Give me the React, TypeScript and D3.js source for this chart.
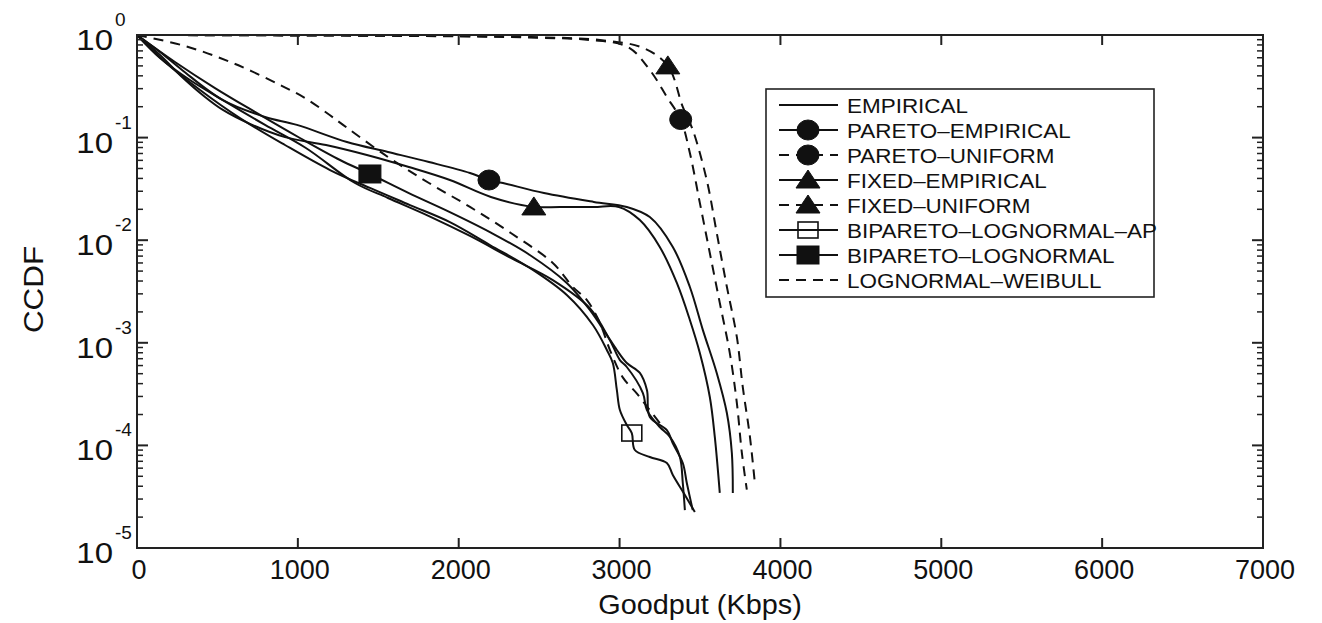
import React from "react";
import * as d3 from "d3";

type Pt = [number, number];

// ---- data (Goodput in Kbps, CCDF) ----
const EMPIRICAL: Pt[] = [
  [0, 1], [143, 0.597], [329, 0.364], [534, 0.232], [796, 0.133], [1050, 0.0792],
  [1355, 0.0361], [1560, 0.0258], [1815, 0.0172], [2070, 0.011], [2324, 0.00671],
  [2585, 0.00409], [2815, 0.00218], [2940, 0.00106], [3002, 6.79e-4], [3045, 5.81e-4],
  [3145, 3.24e-4], [3170, 2.21e-4], [3250, 1.51e-4], [3313, 1.21e-4], [3375, 7.71e-5],
  [3393, 4.3e-5], [3406, 2.34e-5],
];
const PARETO_EMPIRICAL: Pt[] = [
  [0, 1], [143, 0.683], [280, 0.456], [534, 0.232], [796, 0.159], [994, 0.133],
  [1305, 0.0906], [1560, 0.0724], [1815, 0.0578], [2070, 0.0452], [2188, 0.0386],
  [2275, 0.0361], [2530, 0.0288], [2840, 0.0236], [3045, 0.0211], [3188, 0.0168],
  [3331, 0.00859], [3437, 0.0035], [3518, 0.00133], [3604, 5.08e-4], [3667, 2.07e-4],
  [3698, 8.44e-5], [3704, 3.44e-5],
];
const PARETO_UNIFORM: Pt[] = [
  [0, 1], [1000, 0.99], [2000, 0.97], [2500, 0.94], [2815, 0.894], [3052, 0.764],
  [3188, 0.456], [3294, 0.249], [3380, 0.15], [3437, 0.0708], [3499, 0.0231],
  [3561, 0.0075], [3623, 0.00245], [3685, 7.99e-4], [3729, 2.6e-4], [3760, 8.5e-5],
  [3791, 3.7e-5],
];
const FIXED_EMPIRICAL: Pt[] = [
  [0, 1], [143, 0.638], [280, 0.39], [423, 0.249], [534, 0.186], [702, 0.136],
  [920, 0.101], [1175, 0.0847], [1429, 0.0677], [1690, 0.0517], [1945, 0.0386],
  [2200, 0.0264], [2467, 0.0211], [2629, 0.0211], [2840, 0.0211], [2996, 0.0211],
  [3126, 0.0157], [3250, 0.00859], [3356, 0.00383], [3437, 0.00167], [3499, 7.96e-4],
  [3561, 2.96e-4], [3592, 1.21e-4], [3623, 3.44e-5],
];
const FIXED_UNIFORM: Pt[] = [
  [0, 1], [1000, 0.99], [2000, 0.975], [2500, 0.95], [2878, 0.894], [3145, 0.75],
  [3300, 0.5], [3393, 0.199], [3455, 0.119], [3542, 0.0385], [3604, 0.0118],
  [3667, 0.00352], [3729, 0.00114], [3766, 3.7e-4], [3810, 1.23e-4], [3841, 4.3e-5],
];
const BIPARETO_LOGNORMAL_AP: Pt[] = [
  [0, 1], [174, 0.546], [392, 0.291], [640, 0.155], [920, 0.0847], [1200, 0.0483],
  [1448, 0.0323], [1697, 0.022], [1945, 0.015], [2194, 0.00898], [2461, 0.00513],
  [2672, 0.00292], [2834, 0.00149], [2921, 8.51e-4], [2958, 6.35e-4], [2983, 3.47e-4],
  [3002, 2.21e-4], [3045, 1.58e-4], [3076, 1.32e-4], [3095, 9.02e-5], [3188, 7.71e-5],
  [3294, 6.73e-5], [3331, 5.15e-5], [3406, 3.29e-5], [3468, 2.24e-5],
];
const BIPARETO_LOGNORMAL: Pt[] = [
  [0, 1], [236, 0.546], [485, 0.304], [733, 0.178], [1013, 0.0991], [1262, 0.0605],
  [1448, 0.0442], [1690, 0.0288], [1945, 0.0188], [2194, 0.012], [2442, 0.00718],
  [2672, 0.00383], [2815, 0.00209], [2921, 0.00119], [2983, 8.51e-4], [3045, 6.35e-4],
  [3126, 5.08e-4], [3170, 3.47e-4], [3188, 1.89e-4], [3294, 1.41e-4], [3331, 1.05e-4],
  [3393, 6.73e-5], [3418, 4.3e-5], [3455, 2.34e-5],
];
const LOGNORMAL_WEIBULL: Pt[] = [
  [0, 1], [300, 0.78], [600, 0.53], [900, 0.32], [1050, 0.24], [1200, 0.165],
  [1305, 0.125], [1560, 0.0647], [1815, 0.0361], [2070, 0.0211], [2324, 0.01175],
  [2585, 0.006], [2710, 0.0035], [2797, 0.00261], [2878, 0.00156], [2940, 8.5e-4],
  [3020, 4.6e-4], [3108, 3.2e-4], [3188, 2.2e-4], [3250, 1.65e-4],
];

const SERIES_NAMES = [
  "EMPIRICAL",
  "PARETO–EMPIRICAL",
  "PARETO–UNIFORM",
  "FIXED–EMPIRICAL",
  "FIXED–UNIFORM",
  "BIPARETO–LOGNORMAL–AP",
  "BIPARETO–LOGNORMAL",
  "LOGNORMAL–WEIBULL",
];
const SERIES_DATA: Pt[][] = [
  EMPIRICAL, PARETO_EMPIRICAL, PARETO_UNIFORM, FIXED_EMPIRICAL,
  FIXED_UNIFORM, BIPARETO_LOGNORMAL_AP, BIPARETO_LOGNORMAL, LOGNORMAL_WEIBULL,
];
// goodput value at which each series carries its single marker (null = none)
const MARKER_AT: (number | null)[] = [null, 2188, 3380, 2467, 3300, 3076, 1448, null];

const X_TICKS = [0, 1000, 2000, 3000, 4000, 5000, 6000, 7000];
const Y_EXPONENTS = [0, -1, -2, -3, -4, -5];

// ---- styles ----
type MarkerKind = "none" | "circle" | "triangle" | "squareOpen" | "squareFilled";
const STYLE: { dashed: boolean; marker: MarkerKind }[] = [
  { dashed: false, marker: "none" },
  { dashed: false, marker: "circle" },
  { dashed: true, marker: "circle" },
  { dashed: false, marker: "triangle" },
  { dashed: true, marker: "triangle" },
  { dashed: false, marker: "squareOpen" },
  { dashed: false, marker: "squareFilled" },
  { dashed: true, marker: "none" },
];

const W = 1322;
const H = 623;
const L = 137, R = 1263, T = 35, B = 548;
const INK = "#111";
const FONT = "'Liberation Sans', Arial, Helvetica, sans-serif";

function Marker({ kind, cx, cy }: { kind: MarkerKind; cx: number; cy: number }) {
  if (kind === "circle") return <ellipse cx={cx} cy={cy} rx={11} ry={10} fill={INK} stroke={INK} strokeWidth={1} />;
  if (kind === "triangle")
    return <path d={`M${cx},${cy - 10}L${cx + 12},${cy + 8}L${cx - 12},${cy + 8}Z`} fill={INK} stroke={INK} strokeWidth={1} />;
  if (kind === "squareOpen")
    return <rect x={cx - 10} y={cy - 8} width={20} height={16} fill="none" stroke={INK} strokeWidth={1.6} />;
  if (kind === "squareFilled")
    return <rect x={cx - 11} y={cy - 9} width={22} height={18} fill={INK} stroke={INK} strokeWidth={1} />;
  return null;
}

function SText(props: { x: number; y: number; size: number; sx?: number; anchor?: string; children: React.ReactNode }) {
  const { x, y, size, sx = 1, anchor = "start", children } = props;
  return (
    <text transform={`translate(${x},${y}) scale(${sx},1)`} fontSize={size} fontFamily={FONT}
      textAnchor={anchor} fill={INK}>
      {children}
    </text>
  );
}

export default function App() {
  const x = d3.scaleLinear().domain([0, 7000]).range([L, R]);
  const y = d3.scaleLog().domain([1e-5, 1]).range([B, T]);
  const line = d3
    .line<Pt>()
    .x((d) => x(d[0]))
    .y((d) => y(d[1]))
    .curve(d3.curveCatmullRom.alpha(0.5));

  const minor: number[] = [];
  for (let e = -5; e < 0; e++) for (let m = 2; m <= 9; m++) minor.push(m * Math.pow(10, e));

  const legX0 = 766, legY0 = 89, legW = 388, legH = 208;
  const rowH = 25;

  return (
    <svg width={W} height={H} style={{ position: "fixed", left: 0, top: 0, background: "#fff" }}>
      <rect x={0} y={0} width={W} height={H} fill="#fff" />
      {/* series */}
      {SERIES_DATA.map((data, i) => (
        <path key={"s" + i} d={line(data) || ""} fill="none" stroke={INK} strokeWidth={2}
          strokeDasharray={STYLE[i].dashed ? "10,7" : undefined} strokeLinejoin="round" />
      ))}
      {SERIES_DATA.map((data, i) => {
        const mx = MARKER_AT[i];
        if (mx == null) return null;
        const p = data.find((d) => d[0] === mx)!;
        return <Marker key={"m" + i} kind={STYLE[i].marker} cx={x(p[0])} cy={y(p[1])} />;
      })}
      {/* frame */}
      <rect x={L} y={T} width={R - L} height={B - T} fill="none" stroke="#222" strokeWidth={2} />
      {/* x ticks */}
      {X_TICKS.map((t) => (
        <g key={"xt" + t}>
          <line x1={x(t)} x2={x(t)} y1={B} y2={B - 10} stroke="#222" strokeWidth={2} />
          <line x1={x(t)} x2={x(t)} y1={T} y2={T + 10} stroke="#222" strokeWidth={2} />
          <SText x={x(t) + 2} y={B + 31} size={27} anchor="middle">{t}</SText>
        </g>
      ))}
      {/* y ticks */}
      {Y_EXPONENTS.map((e) => {
        const v = Math.pow(10, e);
        return (
          <g key={"yt" + e}>
            <line x1={L} x2={L + 11} y1={y(v)} y2={y(v)} stroke="#222" strokeWidth={2} />
            <line x1={R} x2={R - 11} y1={y(v)} y2={y(v)} stroke="#222" strokeWidth={2} />
            <SText x={113} y={y(v) + 15} size={30} sx={1.1} anchor="end">10</SText>
            <SText x={115} y={y(v) - 9} size={19}>{e === 0 ? "0" : "-" + Math.abs(e)}</SText>
          </g>
        );
      })}
      {minor.map((v, i) => (
        <g key={"mn" + i}>
          <line x1={L} x2={L + 6} y1={y(v)} y2={y(v)} stroke="#222" strokeWidth={1.5} />
          <line x1={R} x2={R - 6} y1={y(v)} y2={y(v)} stroke="#222" strokeWidth={1.5} />
        </g>
      ))}
      {/* axis labels */}
      <SText x={(L + R) / 2} y={614} size={28} sx={1.03} anchor="middle">Goodput (Kbps)</SText>
      <text transform={`translate(43,${(T + B) / 2 - 2}) rotate(-90) scale(1.12,1)`} fontSize={28}
        fontFamily={FONT} textAnchor="middle" fill={INK}>CCDF</text>
      {/* legend */}
      <rect x={legX0} y={legY0} width={legW} height={legH} fill="#fff" stroke="#222" strokeWidth={1.6} />
      {SERIES_NAMES.map((name, i) => {
        const cy = legY0 + 16 + i * rowH;
        return (
          <g key={"lg" + i}>
            <line x1={legX0 + 13} x2={legX0 + 72} y1={cy} y2={cy} stroke={INK} strokeWidth={2}
              strokeDasharray={STYLE[i].dashed ? "10,7" : undefined} />
            <Marker kind={STYLE[i].marker} cx={legX0 + 42} cy={cy} />
            <SText x={legX0 + 81} y={cy + 8} size={21} sx={1.07}>{name}</SText>
          </g>
        );
      })}
    </svg>
  );
}
